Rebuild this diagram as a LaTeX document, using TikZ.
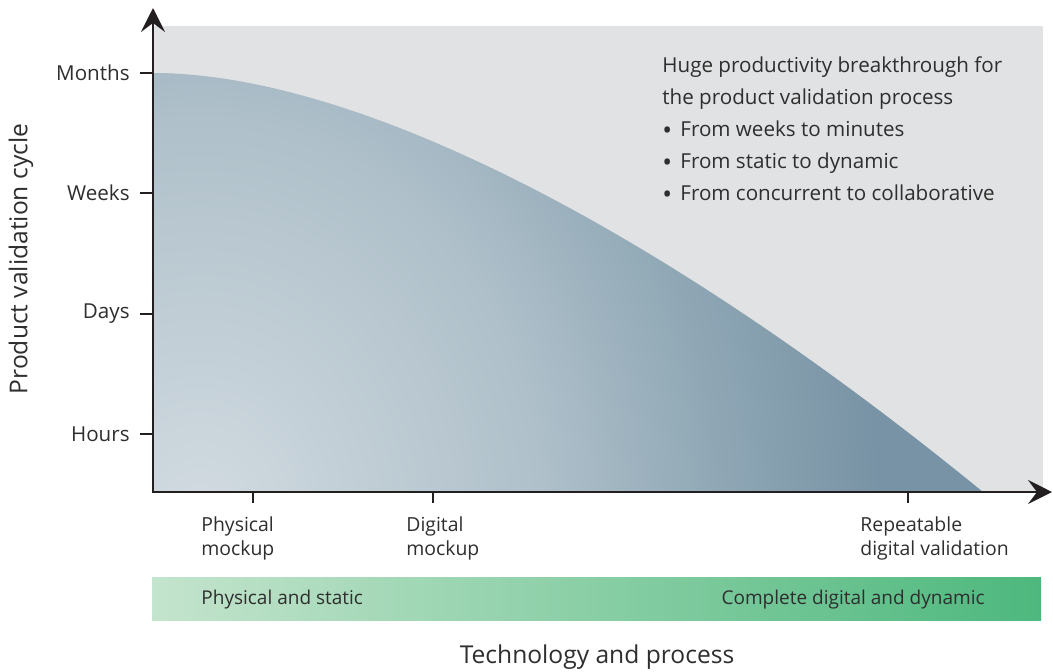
\documentclass[tikz,border=0pt]{standalone}
\usepackage{fontspec}
\setmainfont{Open Sans}
\usepackage{tikz}
\usetikzlibrary{arrows.meta,positioning}

\definecolor{panelgray}{HTML}{E1E2E4}
\definecolor{textgray}{HTML}{2E2E2E}
\definecolor{axisblack}{HTML}{231F20}
\definecolor{cyclelight}{HTML}{D2DBE1}
\definecolor{cyclemid}{HTML}{AFC0CA}
\definecolor{cycledeep}{HTML}{8FA7B5}
\definecolor{cycledark}{HTML}{7893A5}
\definecolor{barlight}{HTML}{C4E4CD}
\definecolor{bardark}{HTML}{4DB87D}

\pgfdeclareradialshading{cycleshade}{\pgfpointorigin}{color(0bp)=(cyclelight); color(8.5bp)=(cyclemid); color(13bp)=(cycledeep); color(17bp)=(cycledark); color(50bp)=(cycledark)}

\newcommand{\claimdot}{\makebox[9pt][l]{\raisebox{-0.25ex}{\fontsize{13}{13}\selectfont\textbullet}}}

\begin{document}
\begin{tikzpicture}[x=0.5pt,y=-0.5pt,
        txt/.style={font=\fontsize{10.3}{12}\selectfont,text=textgray,inner sep=0pt},
        stage/.style={txt,font=\fontsize{9.7}{12}\selectfont,anchor=north west,align=left},
        bartxt/.style={txt,font=\fontsize{9.5}{12}\selectfont},
        title/.style={font=\fontsize{12.3}{14}\selectfont,text=textgray,inner sep=0pt},
        axis/.style={draw=axisblack,line width=1pt,-{Stealth[length=12pt,width=12pt,inset=4.5pt]}},
        tick/.style={draw=axisblack,line width=0.8pt}]
        \useasboundingbox (0,0) rectangle (1053,671);

        % panel and the falling cycle time
        \fill[panelgray] (153,26) rectangle (1043,492);
        \begin{scope}
            \clip (153,492) -- (153,73) .. controls (350,73) and (650,220) .. (983,492) -- cycle;
            \shade[shading=cycleshade] (200,520) ellipse (1000 and 1180);
        \end{scope}

        % axes
        \coordinate (origin) at (153,493);
        \coordinate (ytop) at (153,8);
        \coordinate (xend) at (1052,492);
        \draw[axis] (origin) -- (ytop);
        \draw[axis] ([xshift=-0.5pt]origin |- xend) -- (xend);

        % time scale
        \foreach \y/\lab/\name in {73/Months/months,193/Weeks/weeks,314/Days/days,434/Hours/hours}{
            \node (\name) at (130,\y) [txt,anchor=east] {\lab};
            \draw[tick] (140,\y) -- (153,\y);
        }

        % stages
        \foreach \x in {253,433,908}
            \draw[tick] (\x,492) -- (\x,503);
        \node (physical) at (201,516) [stage] {Physical\\mockup};
        \node (digital) at (406,516) [stage] {Digital\\mockup};
        \node (repeat) at (860,516) [stage] {Repeatable\\digital validation};

        % technology bar
        \shade[left color=barlight,right color=bardark] (152,577) rectangle (1041,620);
        \node (static) at (201,600) [bartxt,anchor=west] {Physical and static};
        \node (dynamic) at (985,600) [bartxt,anchor=east] {Complete digital and dynamic};

        % claim
        \node (claim) at (662,56) [txt,anchor=north west,align=left,
            font=\fontsize{10.3}{16.1}\selectfont] {Huge productivity breakthrough for\\
            the product validation process\\
            \claimdot From weeks to minutes\\
            \claimdot From static to dynamic\\
            \claimdot From concurrent to collaborative};

        % axis titles
        \node (ytitle) at (21,259) [title,rotate=90] {Product validation cycle};
        \node (xtitle) at (597,657) [title] {Technology and process};
    \end{tikzpicture}
\end{document}
